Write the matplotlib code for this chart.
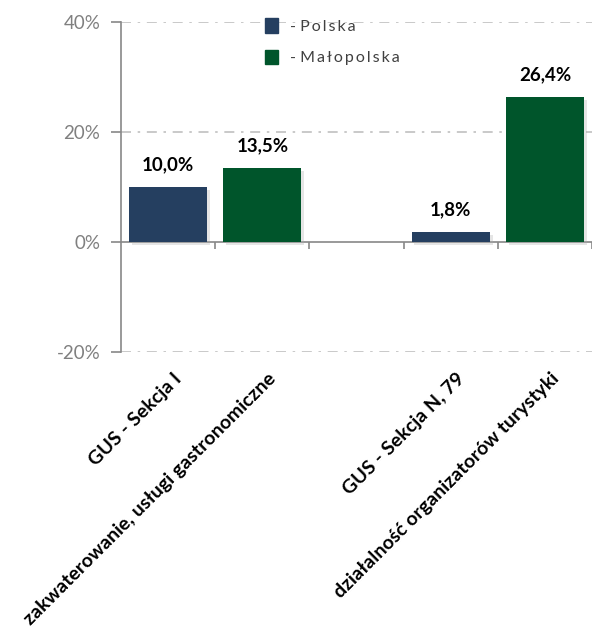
import matplotlib
matplotlib.use("Agg")
import matplotlib.pyplot as plt
import matplotlib.patheffects as pe
from matplotlib.patches import Patch
from matplotlib.transforms import blended_transform_factory

plt.rcParams['font.family'] = ['Lato', 'DejaVu Sans']

# data
groups = ["GUS - Sekcja I", "GUS - Sekcja N, 79"]
subtitles = ["zakwaterowanie, usługi gastronomiczne", "działalność organizatorów turystyki"]
series = ["Polska", "Małopolska"]
polska = [10.0, 1.8]
malopolska = [13.5, 26.4]
yticks = [-20, 0, 20, 40]

colors = ["#253f60", "#00552b"]
group_x = [0, 3]

fig = plt.figure(figsize=(5.92, 6.30), dpi=100)
ax = fig.add_axes([121 / 592, 1 - 352 / 630, 1 - 121 / 592, 330 / 630])

shadow = [pe.SimplePatchShadow(offset=(2, -2), shadow_rgbFace='#aaaaaa', alpha=0.3), pe.Normal()]
for i, vals in enumerate([polska, malopolska]):
    xs = [g - 0.5 + i for g in group_x]
    bars = ax.bar(xs, vals, width=0.83, color=colors[i], zorder=3, label=series[i])
    for b in bars:
        b.set_path_effects(shadow)
    for x, v in zip(xs, vals):
        ax.annotate(("%.1f%%" % v).replace(".", ","), (x, v), xytext=(0, 14),
                    textcoords="offset pixels", ha="center", va="bottom",
                    fontsize=13.5, fontweight="bold", color="black")

ax.set_xlim(-1, 4)
ax.set_ylim(-20, 40)
ax.set_yticks(yticks)
ax.set_yticklabels(["%d%%" % t for t in yticks])
ax.tick_params(axis="y", colors="#888888", labelsize=13.5, length=7, width=1.2, pad=8)
for t in ax.get_yticklabels():
    t.set_color("#808080")
for t in [t for t in yticks if t != 0]:
    ax.axhline(t, color="#c0c0c0", lw=1.2, ls=(0, (6, 4, 1.5, 4)), zorder=1)

ax.set_xticks([0, 1, 2, 3, 4])
ax.set_xticklabels([])
ax.tick_params(axis="x", length=5, width=1.2, color="#888888", direction="out")
ax.spines["bottom"].set_position(("data", 0))
ax.spines["bottom"].set_color("#888888")
ax.spines["bottom"].set_linewidth(1.2)
ax.spines["left"].set_color("#888888")
ax.spines["left"].set_linewidth(1.2)
ax.spines["top"].set_visible(False)
ax.spines["right"].set_visible(False)

# rotated category labels: group name under the Polska bar, description under the Małopolska bar
trans = blended_transform_factory(ax.transData, ax.transAxes)
for g, s, gx in zip(groups, subtitles, group_x):
    for x, txt in ((gx - 0.5, g), (gx + 0.5, s)):
        ax.annotate(txt, (x, 0), xycoords=trans, xytext=(5, -18), textcoords="offset pixels",
                    rotation=45, rotation_mode="anchor", ha="right", va="top",
                    fontsize=14, fontweight="bold", color="black", annotation_clip=False)

handles = [Patch(facecolor=c, edgecolor=c) for c in colors]
leg = ax.legend(handles, ["- " + "\u2009".join(list(s)) for s in series],
                loc="upper left", bbox_to_anchor=(0.275, 1.055), frameon=False,
                handlelength=0.85, handleheight=1.0, handletextpad=0.7,
                labelspacing=1.0, fontsize=11.5)
for t in leg.get_texts():
    t.set_color("#404040")

fig.savefig("out.png", dpi=100)
